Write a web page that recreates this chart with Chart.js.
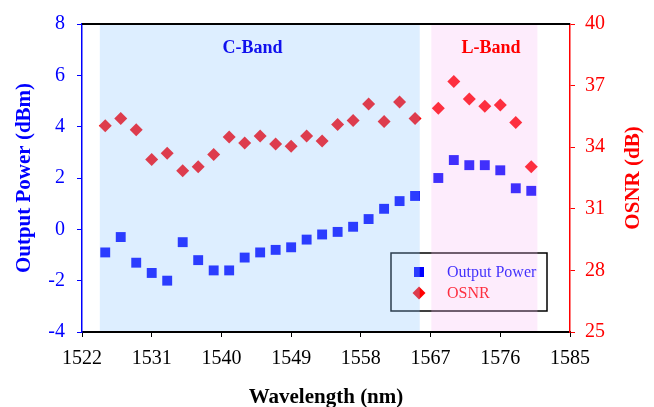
<!DOCTYPE html>
<html>
<head>
<meta charset="utf-8">
<script src="https://cdn.jsdelivr.net/npm/chart.js@4.4.1/dist/chart.umd.min.js"></script>
<style>
  html, body { margin: 0; padding: 0; background: #fff; }
  #wrap { width: 654px; height: 407px; }
</style>
</head>
<body>
<div id="wrap"><canvas id="osnrChart" width="654" height="407"></canvas></div>
<script>
// wavelengths (nm), C-band then L-band
const wavelengths = [1525, 1527, 1529, 1531, 1533, 1535, 1537, 1539, 1541, 1543, 1545,
    1547, 1549, 1551, 1553, 1555, 1557, 1559, 1561, 1563, 1565,
    1568, 1570, 1572, 1574, 1576, 1578, 1580];
const outputPower = [-0.9, -0.3, -1.3, -1.7, -2.0, -0.5, -1.2, -1.6, -1.6, -1.1, -0.9,
    -0.8, -0.7, -0.4, -0.2, -0.1, 0.1, 0.4, 0.8, 1.1, 1.3,
    2.0, 2.7, 2.5, 2.5, 2.3, 1.6, 1.5];
const osnr = [35.05, 35.4, 34.85, 33.4, 33.7, 32.85, 33.05, 33.65, 34.5, 34.2, 34.55,
    34.15, 34.05, 34.55, 34.3, 35.1, 35.3, 36.1, 35.25, 36.2, 35.4,
    35.9, 37.2, 36.35, 36.0, 36.05, 35.2, 33.05];

const bandNames = ['C-Band', 'L-Band'];
const bandRanges = [[1524.3, 1565.6], [1567.1, 1580.8]];
const bandLabelPos = [[1544, 7.07], [1574.8, 7.07]];

const serif = "'Liberation Serif', 'Times New Roman', serif";
const BLUE = '#0000ff';
const RED = '#ff0000';

function toPoints(ys) {
    return wavelengths.map((x, i) => ({ x: x, y: ys[i] }));
}

const bandPlugin = {
    id: 'bands',
    afterDatasetsDraw(chart) {
        const ctx = chart.ctx;
        const area = chart.chartArea;
        const xs = chart.scales.x;
        const ys = chart.scales.y;

        ctx.save();
        // legend box
        const lx = area.right - 179, ly = area.bottom - 79, lw = 156, lh = 58;
        ctx.strokeStyle = '#000';
        ctx.lineWidth = 1.5;
        ctx.strokeRect(lx, ly, lw, lh);
        ctx.font = '16px ' + serif;
        ctx.textAlign = 'left';
        ctx.textBaseline = 'middle';
        chart.data.datasets.forEach((ds, i) => {
            const cy = ly + 19 + i * 21;
            ctx.fillStyle = ds.backgroundColor;
            ctx.beginPath();
            if (ds.pointStyle === 'rect') {
                ctx.rect(lx + 23, cy - 5, 10, 10);
            } else {
                ctx.moveTo(lx + 28, cy - 6.5);
                ctx.lineTo(lx + 34.5, cy);
                ctx.lineTo(lx + 28, cy + 6.5);
                ctx.lineTo(lx + 21.5, cy);
                ctx.closePath();
            }
            ctx.fill();
            ctx.fillText(ds.label, lx + 56, cy + 1);
        });

        // translucent band shading on top of the plotted marks
        const fills = ['rgba(142,199,255,0.3)', 'rgba(247,183,243,0.26)'];
        bandRanges.forEach((r, i) => {
            const x0 = xs.getPixelForValue(r[0]);
            const x1 = xs.getPixelForValue(r[1]);
            ctx.fillStyle = fills[i];
            ctx.fillRect(x0, area.top + 1, x1 - x0, area.bottom - area.top - 2);
        });

        // band labels
        ctx.font = 'bold 18px ' + serif;
        ctx.textAlign = 'center';
        bandNames.forEach((name, i) => {
            ctx.fillStyle = i === 0 ? '#1010ee' : RED;
            ctx.fillText(name, xs.getPixelForValue(bandLabelPos[i][0]), ys.getPixelForValue(bandLabelPos[i][1]));
        });

        // top frame line
        ctx.strokeStyle = '#000';
        ctx.lineWidth = 2;
        ctx.beginPath();
        ctx.moveTo(area.left, area.top);
        ctx.lineTo(area.right, area.top);
        ctx.stroke();

        // right axis title, reads bottom to top
        ctx.translate(634, (area.top + area.bottom) / 2);
        ctx.rotate(-Math.PI / 2);
        ctx.font = 'bold 21px ' + serif;
        ctx.fillStyle = RED;
        ctx.fillText('OSNR (dB)', 0, 0);
        ctx.restore();
    }
};

const ctx = document.getElementById('osnrChart').getContext('2d');
new Chart(ctx, {
    type: 'scatter',
    data: {
        datasets: [{
            label: 'Output Power',
            data: toPoints(outputPower),
            yAxisID: 'y',
            pointStyle: 'rect',
            pointRadius: 7,
            pointBorderWidth: 0,
            backgroundColor: BLUE,
            borderColor: BLUE
        }, {
            label: 'OSNR',
            data: toPoints(osnr),
            yAxisID: 'y1',
            pointStyle: 'rectRot',
            pointRadius: 6.5,
            pointBorderWidth: 0,
            backgroundColor: RED,
            borderColor: RED
        }]
    },
    options: {
        responsive: false,
        animation: false,
        devicePixelRatio: 1,
        layout: { padding: { top: 19, left: 0, right: 0, bottom: 0 } },
        plugins: {
            legend: { display: false },
            tooltip: { enabled: false }
        },
        scales: {
            x: {
                type: 'linear',
                min: 1522,
                max: 1585,
                afterFit: s => { s.height = 75; },
                border: { color: '#000', width: 2 },
                grid: { drawOnChartArea: false, drawTicks: true, tickLength: 5, color: '#000' },
                ticks: {
                    stepSize: 9,
                    padding: 10,
                    color: '#000',
                    font: { family: serif, size: 20 },
                    maxRotation: 0,
                    callback: v => String(v)
                },
                title: {
                    display: true,
                    text: 'Wavelength (nm)',
                    color: '#000',
                    font: { family: serif, size: 21, weight: 'bold', lineHeight: 1 },
                    padding: { top: 0, bottom: -1 }
                }
            },
            y: {
                position: 'left',
                min: -4,
                max: 8,
                afterFit: s => { s.width = 82; },
                border: { color: BLUE, width: 1.5 },
                grid: { drawOnChartArea: false, drawTicks: true, tickLength: 5, color: BLUE },
                ticks: {
                    stepSize: 2,
                    padding: 12,
                    color: BLUE,
                    font: { family: serif, size: 20 }
                },
                title: {
                    display: true,
                    text: 'Output Power (dBm)',
                    color: BLUE,
                    font: { family: serif, size: 21, weight: 'bold', lineHeight: 1 },
                    padding: { top: 14, bottom: 0 }
                }
            },
            y1: {
                position: 'right',
                min: 25,
                max: 40,
                afterFit: s => { s.width = 84; },
                border: { color: RED, width: 1.5 },
                grid: { drawOnChartArea: false, drawTicks: true, tickLength: 5, color: RED },
                ticks: {
                    stepSize: 3,
                    padding: 10,
                    color: RED,
                    font: { family: serif, size: 20 }
                }
            }
        }
    },
    plugins: [bandPlugin]
});
</script>
</body>
</html>
